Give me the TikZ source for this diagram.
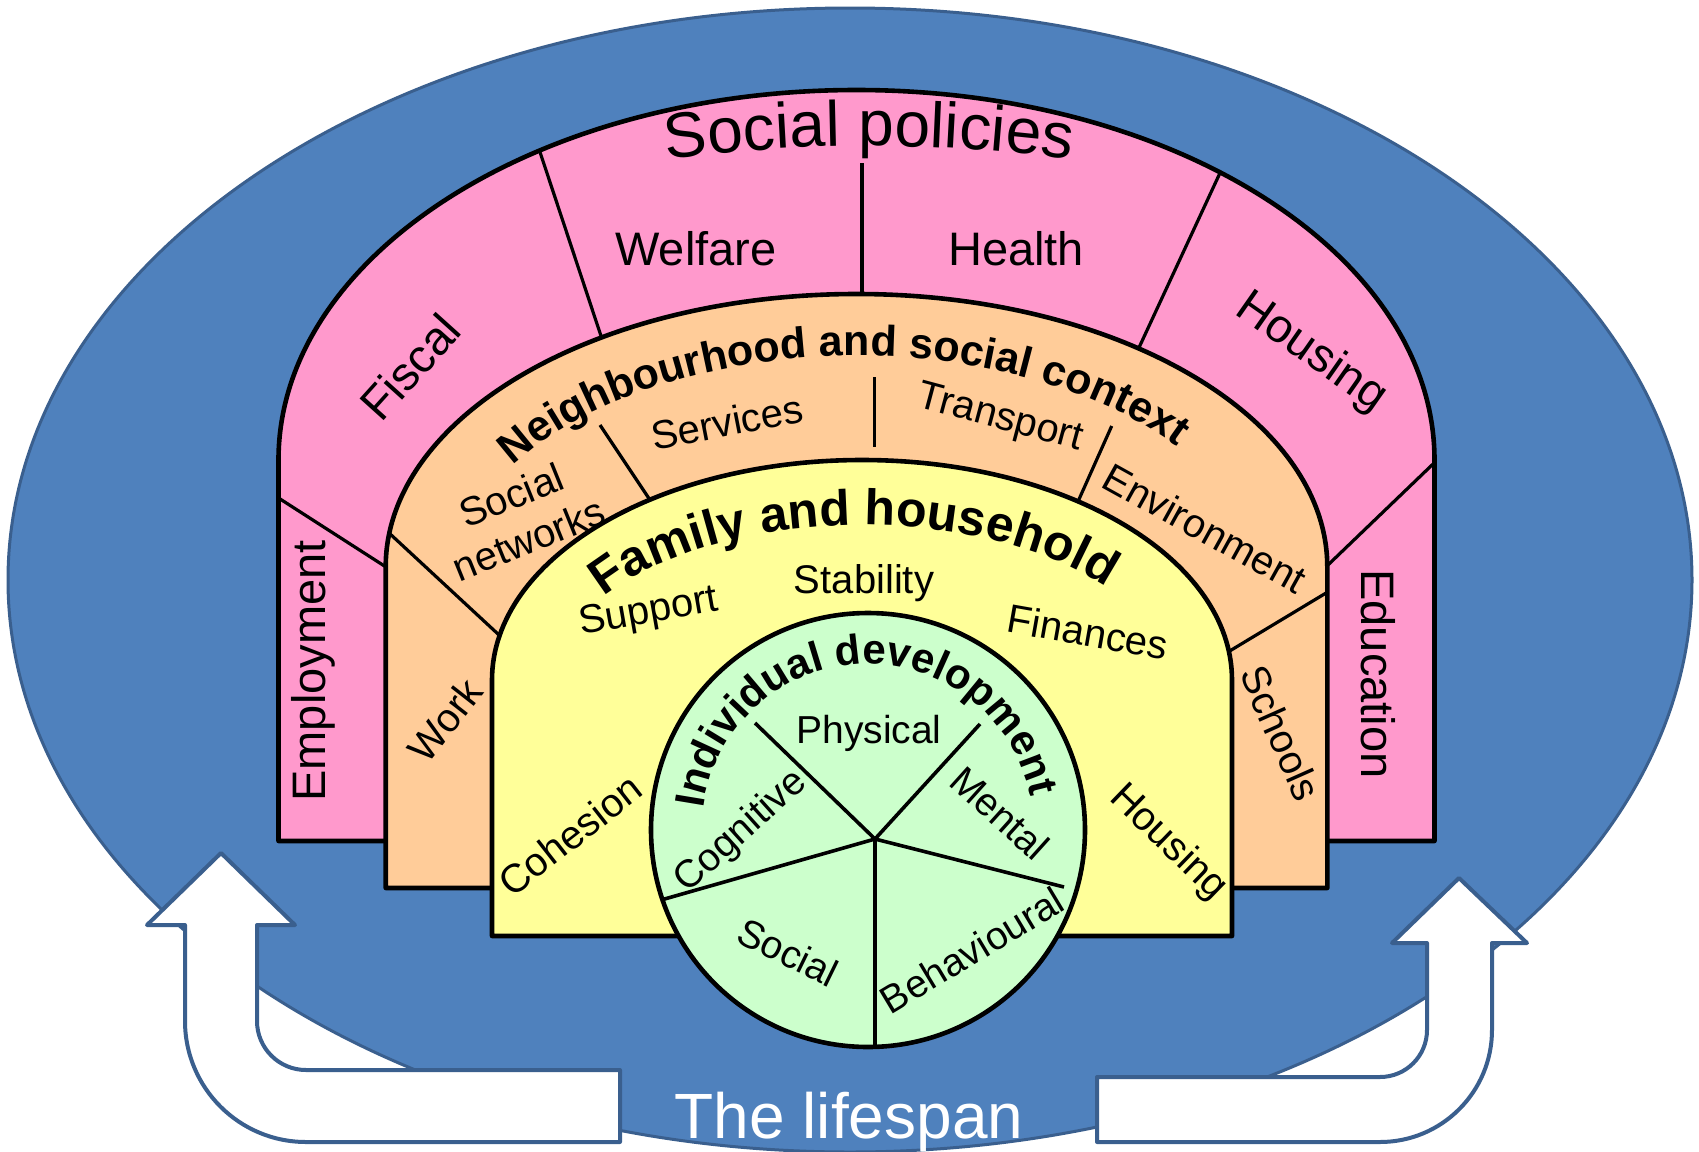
\documentclass[tikz,border=0pt]{standalone}
\usepackage{fontspec}
\setmainfont{Liberation Sans}
\usetikzlibrary{decorations.text,calc}
\definecolor{bluefill}{HTML}{4F81BD}
\definecolor{blueline}{HTML}{3A5F8E}
\definecolor{pinkfill}{HTML}{FF99CC}
\definecolor{orangefill}{HTML}{FFCC99}
\definecolor{yellowfill}{HTML}{FFFF99}
\definecolor{greenfill}{HTML}{CCFFCC}
\def\pinkP{(278.5,841) -- (278.5,460) arc[start angle=180,end angle=360,x radius=578,y radius=370] -- (1434.5,841) -- cycle}
\def\orangeP{(385.7,888) -- (385.7,567) arc[start angle=180,end angle=360,x radius=470.8,y radius=273] -- (1327.3,888) -- cycle}
\def\yellowP{(492,936) -- (492,680) arc[start angle=180,end angle=360,x radius=370,y radius=220] -- (1232,936) -- cycle}
\def\greenP{(868,830) circle[radius=217]}
\begin{document}
\begin{tikzpicture}[x=0.5pt,y=-0.5pt,
  shapeline/.style={draw=black,line width=2.3pt,line join=round},
  divline/.style={draw=black,line width=1.6pt},
  pieline/.style={draw=black,line width=1.8pt},
  pinklab/.style={font=\fontsize{23.5}{28}\selectfont,inner sep=0pt},
  midlab/.style={font=\fontsize{20}{23.5}\selectfont,inner sep=0pt},
  pielab/.style={font=\fontsize{19.5}{23}\selectfont,inner sep=0pt},
  arrowshape/.style={fill=white,draw=blueline,line width=2pt,line join=round}]
\useasboundingbox (0,0) rectangle (1699,1152);
% lifespan background
\path[fill=bluefill,draw=blueline,line width=1.5pt] (850,580) ellipse[x radius=842,y radius=572];
% arrows
\path[arrowshape] (221,853) -- (295,925) -- (257,925) -- (257,1021)
  arc[start angle=180,end angle=90,radius=49] -- (620,1070) -- (620,1142) -- (306,1142)
  arc[start angle=90,end angle=180,radius=121] -- (185,925) -- (147,925) -- cycle;
\path[arrowshape] (1459,878) -- (1392,943) -- (1427,943) -- (1427,1030)
  arc[start angle=0,end angle=90,radius=47] -- (1097,1077) -- (1097,1142) -- (1380,1142)
  arc[start angle=90,end angle=0,radius=112] -- (1492,943) -- (1527,943) -- cycle;
% social policies
\fill[pinkfill] \pinkP;
\begin{scope}
\clip \pinkP;
\draw[divline] (270,492.5) -- (400,576);
\draw[divline] (535,137) -- (605,348);
\draw[divline] (862,163) -- (862,310);
\draw[divline] (1226,160) -- (1130,367);
\draw[divline] (1445,452.5) -- (1317,575.5);
\end{scope}
\draw[shapeline] \pinkP;
% neighbourhood
\fill[orangefill] \orangeP;
\begin{scope}
\clip \orangeP;
\draw[divline] (380,524.6) -- (512,647);
\draw[divline] (600,425) -- (660,515);
\draw[divline] (874.3,377) -- (874.3,446.7);
\draw[divline] (1111.7,426) -- (1072,515);
\draw[divline] (1335,587.6) -- (1218,658);
\end{scope}
\draw[shapeline] \orangeP;
% family
\fill[yellowfill] \yellowP;
\draw[shapeline] \yellowP;
% individual
\fill[greenfill] \greenP;
\begin{scope}
\clip \greenP;
\draw[pieline] (875,839) -- (755,723);
\draw[pieline] (875,839) -- (980,724);
\draw[pieline] (875,839) -- (1064,887);
\draw[pieline] (875,839) -- (875,1060);
\draw[pieline] (875,839) -- (640,906);
\end{scope}
\draw[shapeline] \greenP;
% curved titles
\path[decorate,decoration={text along path,text align=center,
  text={|\fontsize{32}{38}\selectfont|Social policies}}]
  ($(869,1649)+(258:1503)$) arc[start angle=258,end angle=282,radius=1503];
\path[decorate,decoration={text along path,text align=center,
  text={|\bfseries\fontsize{21.5}{26}\selectfont|Neighbourhood and social context}}]
  ($(856.5,595)+(207:409 and 239)$) arc[start angle=207,end angle=327,x radius=409,y radius=239];
\path[decorate,decoration={text along path,text align=center,
  text={|\bfseries\fontsize{25}{30}\selectfont|Family and household}}]
  ($(862,680)+(205.5:305 and 155)$) arc[start angle=205.5,end angle=329.5,x radius=305,y radius=155];
\path[decorate,decoration={text along path,text align=center,
  text={|\bfseries\fontsize{21}{25}\selectfont|Individual development}}]
  ($(868,830)+(182:166)$) arc[start angle=182,end angle=354,radius=166];
% social policies labels
\node[pinklab] (welfare) at (696,249) {Welfare};
\node[pinklab] (health) at (1016,249) {Health};
\node[pinklab,rotate=48] (fiscal) at (410,367) {Fiscal};
\node[pinklab,rotate=-35] (housingp) at (1311,353) {Housing};
\node[pinklab,rotate=90] (employment) at (313,671) {Employment};
\node[pinklab,rotate=-90] (education) at (1378,674) {Education};
% neighbourhood labels
\node[midlab,rotate=22,align=center] (socnet) at (520,517) {Social\\networks};
\node[midlab,rotate=11] (services) at (727,422) {Services};
\node[midlab,rotate=-15] (transport) at (1000,419) {Transport};
\node[midlab,rotate=-29] (environment) at (1205,528) {Environment};
\node[midlab,rotate=52] (work) at (445,720) {Work};
\node[midlab,rotate=-66] (schools) at (1281,733) {Schools};
% family labels
\node[midlab,rotate=10] (support) at (649,613) {Support};
\node[midlab] (stability) at (864,583) {Stability};
\node[midlab,rotate=-10] (finances) at (1088,632) {Finances};
\node[midlab,rotate=38] (cohesion) at (570,835) {Cohesion};
\node[midlab,rotate=-44] (housingy) at (1168,843) {Housing};
% individual labels
\node[pielab] (physical) at (869,733) {Physical};
\node[pielab,rotate=42] (cognitive) at (741,832) {Cognitive};
\node[pielab,rotate=-42] (mental) at (1000,813) {Mental};
\node[pielab,rotate=-26] (social) at (788,952) {Social};
\node[pielab,rotate=31] (behavioural) at (972,950) {Behavioural};
% lifespan
\node[font=\fontsize{32}{38}\selectfont,text=white,anchor=base,inner sep=0pt] (lifespan) at (849,1138) {The lifespan};
\end{tikzpicture}
\end{document}
